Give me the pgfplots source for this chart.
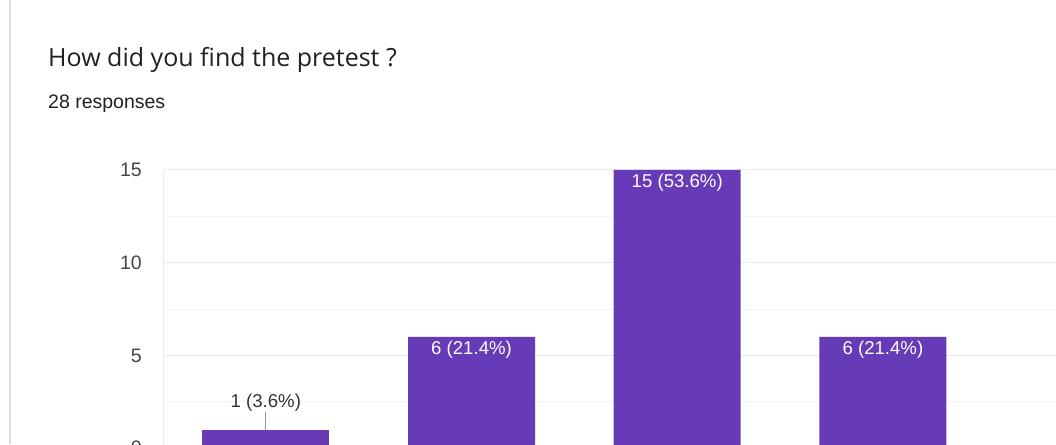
\documentclass[border=0pt]{standalone}
\usepackage{pgfplots}
\pgfplotsset{compat=1.18}
\usepackage{fontspec}
\setmainfont{Liberation Sans}
\newfontfamily\titlefont{Open Sans}
\definecolor{barpurple}{HTML}{673AB7}
\definecolor{titlegray}{HTML}{202124}
\definecolor{borderline}{HTML}{DADCE0}
\definecolor{gridmajor}{HTML}{EBEBEB}
\definecolor{gridminor}{HTML}{F4F4F4}
\definecolor{ticklabel}{HTML}{444444}
\definecolor{annot}{HTML}{333333}
\definecolor{leader}{HTML}{999999}
\begin{document}
\begin{tikzpicture}[x=1pt,y=1pt]
\clip (0,0) rectangle (1056,444);
\fill[white] (0,0) rectangle (1056,444);
\draw[color=borderline, line width=2pt] (10,0) -- (10,444);
\node[anchor=base west, inner sep=0pt, font=\titlefont\fontsize{25}{30}\selectfont, text=titlegray] at (48,377) {How did you find the pretest ?};
\node[anchor=base west, inner sep=0pt, font=\fontsize{19.5}{23}\selectfont, text=titlegray] at (48,335.5) {28 responses};
\begin{axis}[
  at={(163pt,-4.25pt)}, anchor=south west,
  scale only axis, width=1028.5pt, height=278.25pt,
  xmin=-0.5, xmax=4.5, ymin=0, ymax=15,
  axis x line=none, axis y line=left,
  axis line style={draw=gridmajor, line width=1pt, -},
  ytick={0,5,10,15}, minor ytick={2.5,7.5,12.5},
  ymajorgrids, yminorgrids,
  major grid style={draw=gridmajor, line width=1pt},
  minor grid style={draw=gridminor, line width=1pt},
  major tick length=0pt, minor tick length=0pt,
  /pgf/number format/assume math mode=true,
  yticklabel style={font=\fontsize{19.5}{20}\selectfont, text=ticklabel, inner sep=0pt, anchor=east, xshift=-21pt},
  clip=false,
]
\addplot[ybar, bar width=127pt, bar shift=0pt, fill=barpurple, draw=none,
  point meta=explicit symbolic, nodes near coords,
  every node near coord/.append style={anchor=center, yshift=-13pt, text=white, font=\fontsize{18.6}{20}\selectfont}]
  coordinates {(1,6) [6 (21.4\%)] (2,15) [15 (53.6\%)] (3,6) [6 (21.4\%)]};
\addplot[ybar, bar width=127pt, bar shift=0pt, fill=barpurple, draw=none,
  point meta=explicit symbolic, nodes near coords,
  every node near coord/.append style={anchor=center, yshift=27pt, text=annot, font=\fontsize{18.6}{20}\selectfont}]
  coordinates {(0,1) [1 (3.6\%)]};
\draw[color=leader, line width=1pt] (axis cs:0,1) -- ([yshift=18pt]axis cs:0,1);
\end{axis}
\end{tikzpicture}
\end{document}
